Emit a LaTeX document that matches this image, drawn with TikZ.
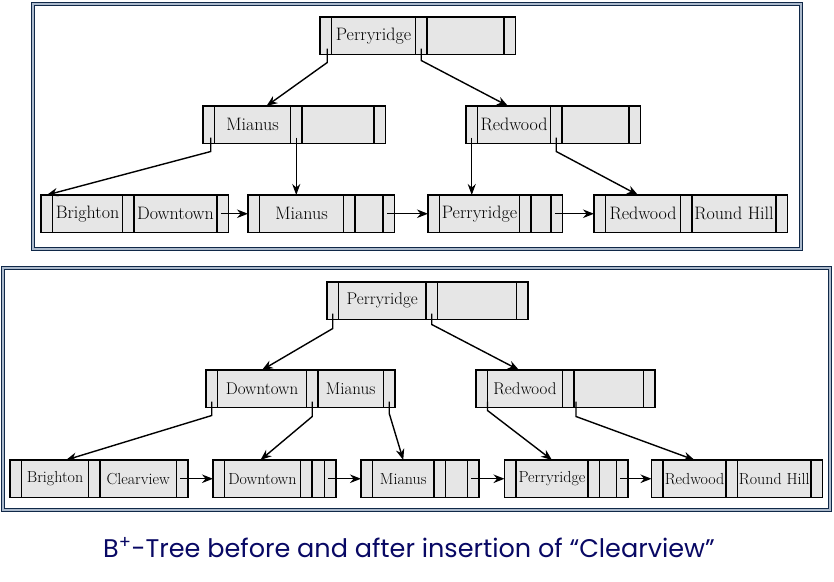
\documentclass[tikz,border=0pt]{standalone}
\usepackage{fontspec}
\usetikzlibrary{positioning,arrows.meta}
\newfontfamily\capfont{Poppins}
\definecolor{cellgray}{RGB}{230,230,230}
\definecolor{framenavy}{RGB}{16,40,72}
\definecolor{framelight}{RGB}{172,186,204}
\definecolor{capnavy}{RGB}{8,8,100}

% pointer cell width
\def\pw{11.5}

% one B+-tree node: name, x, y, key widths, keys
\newcommand{\bpnode}[7]{%
  \node[cell, minimum width=\pw] (#1-p0) at (#2,#3) {};
  \node[cell, anchor=west, minimum width=#4, right=0pt of #1-p0] (#1-k1) {\makebox[0pt]{#6}};
  \node[cell, anchor=west, minimum width=\pw, right=0pt of #1-k1] (#1-p1) {};
  \node[cell, anchor=west, minimum width=#5, right=0pt of #1-p1] (#1-k2) {\makebox[0pt]{#7}};
  \node[cell, anchor=west, minimum width=\pw, right=0pt of #1-k2] (#1-p2) {};
}

\begin{document}
\begin{tikzpicture}[x=1pt,y=-1pt]
    \tikzstyle{cell}=[draw, line width=1.6pt, fill=cellgray, inner sep=0pt, outer sep=0pt, minimum height=37.5, anchor=north west]
    \tikzstyle{marrs}=[line width=1.4pt,-{Stealth[length=11pt,width=8.5pt]}]
    \tikzstyle{tarrs}=[line width=0.9pt,-{Stealth[length=11pt,width=8pt]}]
    \tikzstyle{frame}=[draw=framenavy, line width=0.9pt, double=framelight, double distance=2.2pt]

    \useasboundingbox (0,0) rectangle (834,581);

    \draw[frame] (32.7,4.2) rectangle (801.3,249.3);
    \draw[frame] (2.7,267.7) rectangle (830.3,509.8);

    % before insertion
    \begin{scope}[every node/.append style={font=\fontsize{18}{20}\selectfont}]
        \bpnode{troot}{320}{17}{84}{77}{Perryridge}{}
        \bpnode{tmia}{203}{106}{76}{72}{Mianus}{}
        \bpnode{tred}{466}{106}{73}{67}{Redwood}{}
        \bpnode{tl1}{41}{195}{70}{83}{Brighton}{Downtown}
        \bpnode{tl2}{248}{195}{84}{28}{Mianus}{}
        \bpnode{tl3}{428}{195}{80}{20}{Perryridge}{}
        \bpnode{tl4}{594}{195}{75}{84}{Redwood}{Round Hill}

        \draw[marrs] ([xshift=1.5,yshift=6]troot-p0.south) -- ++(0,14) -- ([xshift=14]tmia-k1.north);
        \draw[marrs] ([yshift=6]troot-p1.south) -- ++(0,12) -- ([xshift=-6]tred-k1.north);
        \draw[marrs] ([xshift=2,yshift=6]tmia-p0.south) -- ++(0,14) -- (tl1-p0.north);
        \draw[tarrs] ([yshift=6]tmia-p1.south) -- (tmia-p1.south |- tl2-k1.north);
        \draw[tarrs] ([yshift=6]tred-p0.south) -- (tred-p0.south |- tl3-k1.north);
        \draw[marrs] ([yshift=6]tred-p1.south) -- ++(0,14) -- ([xshift=-5]tl4-k1.north);
        \foreach \a/\b in {tl1/tl2, tl2/tl3, tl3/tl4} {
            \draw[marrs] ([xshift=-2]\a-p2.center) -- (\b-p0.west);
        }
    \end{scope}

    % after insertion
    \begin{scope}[every node/.append style={font=\fontsize{17}{19}\selectfont}]
        \bpnode{broot}{327}{282}{87.5}{79}{Perryridge}{}
        \bpnode{bdm}{206}{370}{89}{65.5}{Downtown}{Mianus}
        \bpnode{bred}{476}{370}{75}{69.5}{Redwood}{}
        \begin{scope}[every node/.append style={font=\fontsize{16}{18}\selectfont}]
            \bpnode{bl1}{10}{460}{67}{76.5}{Brighton}{Clearview}
            \bpnode{bl2}{213}{460}{76}{12.5}{Downtown}{}
            \bpnode{bl3}{361}{460}{61.5}{22}{Mianus}{}
            \bpnode{bl4}{504.5}{460}{72}{17}{Perryridge}{}
            \bpnode{bl5}{651.5}{460}{63}{73.5}{Redwood}{Round Hill}
        \end{scope}

        \draw[marrs] ([yshift=6]broot-p0.south) -- ++(0,15) -- (bdm-k1.north);
        \draw[marrs] ([yshift=6]broot-p1.south) -- ++(0,11) -- ([xshift=-6]bred-k1.north);
        \draw[marrs] ([yshift=6]bdm-p0.south) -- ++(0,14) -- ([xshift=11]bl1-k1.north);
        \draw[marrs] ([yshift=6]bdm-p1.south) -- ++(0,15) -- ([xshift=-2]bl2-k1.north);
        \draw[marrs] ([yshift=6]bdm-p2.south) -- ++(0,12) -- (bl3-k1.north);
        \draw[marrs] ([yshift=6]bred-p0.south east) -- ++(0,9) -- (bl4-k1.north);
        \draw[marrs] ([xshift=2,yshift=6]bred-p1.south east) -- ++(0,15) -- (bl5-k1.north);
        \foreach \a/\b in {bl1/bl2, bl2/bl3, bl3/bl4, bl4/bl5} {
            \draw[marrs] ([xshift=-2]\a-p2.center) -- (\b-p0.west);
        }
    \end{scope}

    \node[text=capnavy, font=\capfont\fontsize{25.5}{28}\selectfont] (caption) at (409,548) {B\textsuperscript{+}-Tree before and after insertion of “Clearview”};
\end{tikzpicture}
\end{document}
